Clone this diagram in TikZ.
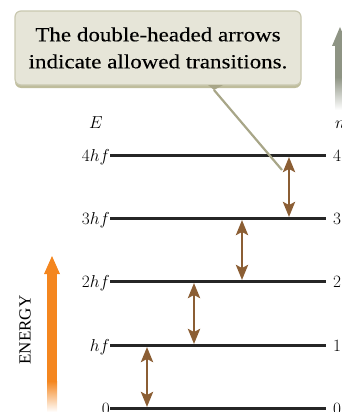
\documentclass[tikz,border=0pt]{standalone}
\usepackage{fontspec}
\usepackage{tikz}
\usetikzlibrary{arrows.meta}
\newfontfamily\calloutfont{Liberation Serif}[FakeStretch=1.15, FakeBold=0.15]
\newfontfamily\axisfont{Liberation Serif}
\definecolor{levelgray}{HTML}{262626}
\definecolor{transbrown}{HTML}{8B5E34}
\definecolor{energyorange}{HTML}{F4861F}
\definecolor{arrowgray}{HTML}{8E9484}
\definecolor{calloutfill}{HTML}{E6E5D8}
\definecolor{calloutedge}{HTML}{C9C8B0}
\definecolor{calloutshade}{HTML}{BFBD9C}
\definecolor{pointer}{HTML}{A8A688}
\tikzset{
  levelline/.style={draw=levelgray, line width=3pt},
  trans/.style={
    {Stealth[length=15pt, width=12pt, inset=3pt]}-{Stealth[length=15pt, width=12pt, inset=3pt]},
    draw=transbrown, fill=transbrown, line width=2.8pt
  },
  lvllabel/.style={inner sep=0pt, font=\fontsize{18.5}{20}\selectfont},
  callout/.style={
    draw=calloutedge, line width=1.2pt, fill=calloutfill, rounded corners=6pt,
    minimum width=286pt, minimum height=74pt, align=center,
    font=\calloutfont\fontsize{20}{27}\selectfont
  },
  pointerline/.style={draw=pointer, line width=2.2pt},
}

\begin{document}
\begin{tikzpicture}[x=1pt, y=-1pt]
    \clip (0,0) rectangle (342,412);
    % energy levels
    \foreach \n/\y/\lab in {4/155/4hf, 3/218/3hf, 2/281/2hf, 1/345/hf, 0/408/0} {
      \coordinate (L\n) at (110,\y);
      \coordinate (R\n) at (326,\y);
      \draw[levelline] (L\n) -- (R\n);
      \node[lvllabel, anchor=base east] (e\n) at ([yshift=-6pt]L\n) {$\lab$};
      \node[lvllabel, anchor=base west] (n\n) at ([xshift=7pt, yshift=-6pt]R\n) {$\n$};
    }
    \node[lvllabel, anchor=base] (elab) at (96,128) {$E$};
    \node[lvllabel, anchor=base west] (nlab) at (335,128) {$n$};

    % allowed transitions
    \draw[trans] (289,157) -- (289,217);
    \draw[trans] (242,220) -- (242,280);
    \draw[trans] (194,283) -- (194,344);
    \draw[trans] (147,347) -- (147,407);

    % energy axis
    \fill[energyorange] (47,273) rectangle (57,382);
    \shade[top color=energyorange, bottom color=white] (47,381) rectangle (57,412);
    \fill[energyorange] (44,274) -- (52,256) -- (60,274) -- cycle;
    \node[font=\axisfont\fontsize{17}{20}\selectfont, rotate=90] (energy) at (25,330) {ENERGY};

    % n axis
    \fill[arrowgray] (335,45) rectangle (345,78);
    \shade[top color=arrowgray, bottom color=white] (335,77) rectangle (345,110);
    \fill[arrowgray] (332,46) -- (340,27) -- (348,46) -- cycle;

    % callout
    \fill[calloutshade, rounded corners=6pt] (15,14) rectangle (301,88);
    \node[callout] (note) at (158,48) {The double-headed arrows\\indicate allowed transitions.};
    \coordinate (ptr) at (214,90);
    \coordinate (ptrend) at (282,170);
    \fill[pointer] (208,85) -- (223,85) -- (ptr) -- cycle;
    \draw[pointerline] (ptr) -- (ptrend);
  \end{tikzpicture}
\end{document}
